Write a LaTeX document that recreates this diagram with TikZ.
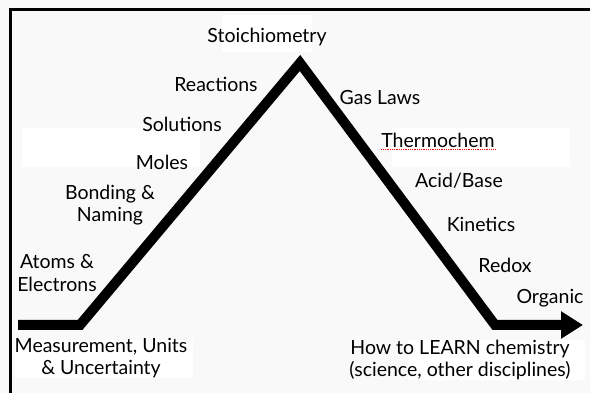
\documentclass[tikz,border=0pt]{standalone}
\usepackage{fontspec}
\setmainfont{Lato}
\usetikzlibrary{arrows.meta}
\definecolor{bggray}{RGB}{249,249,249}

\begin{document}
\begin{tikzpicture}[x=1pt, y=-1pt,
    topic/.style={font=\fontsize{19.5}{22.5}\selectfont, align=center, inner sep=0pt},
    patch/.style={fill=white, draw=none}]
  \useasboundingbox (0, 0) rectangle (590, 393);
  \fill[bggray] (0, 0) rectangle (590, 393);

  % 白色底块
  \fill[patch] (222, 15) rectangle (312, 52);
  \fill[patch] (22, 128) rectangle (200, 167);
  \fill[patch] (392, 128) rectangle (570, 167);
  \fill[patch] (15, 340) rectangle (193, 378);
  \fill[patch] (408, 340) rectangle (585, 380);

  % 边框
  \draw[line width=3pt] (10, 393) -- (10, 10) -- (590, 10);

  \coordinate (start)  at (18, 325);
  \coordinate (elbowL) at (80, 325);
  \coordinate (apex)   at (300, 63);
  \coordinate (elbowR) at (495, 325);
  \coordinate (tip)    at (583, 325);

  \draw[line width=10pt, -{Triangle[length=22pt, width=26pt]}]
    (start) -- (elbowL) -- (apex) -- (elbowR) -- (tip);

  % 左侧
  \node[topic] (stoich)    at (267, 37)  {Stoichiometry};
  \node[topic] (reactions) at (216, 84)  {Reactions};
  \node[topic] (solutions) at (182, 124) {Solutions};
  \node[topic] (moles)     at (162, 162) {Moles};
  \node[topic] (bonding)   at (110, 205) {Bonding \&\\Naming};
  \node[topic] (atoms)     at (57, 273)  {Atoms \&\\Electrons};
  \node[topic] (measure)   at (101, 358) {Measurement, Units\\\& Uncertainty};

  % 右侧
  \node[topic] (gas)     at (380, 98)  {Gas Laws};
  \node[topic] (thermo)  at (438, 140) {Thermochem};
  \node[topic] (acid)    at (459, 181) {Acid/Base};
  \node[topic] (kinetic) at (481, 224) {Kinetics};
  \node[topic] (redox)   at (505, 265) {Redox};
  \node[topic] (organic) at (550, 298) {Organic};
  \node[topic] (learn)   at (460, 360) {How to LEARN chemistry\\(science, other disciplines)};

  \draw[red, densely dotted, line width=0.8pt]
    ([yshift=-2pt]thermo.base west) -- ([yshift=-2pt]thermo.base east);
\end{tikzpicture}
\end{document}
